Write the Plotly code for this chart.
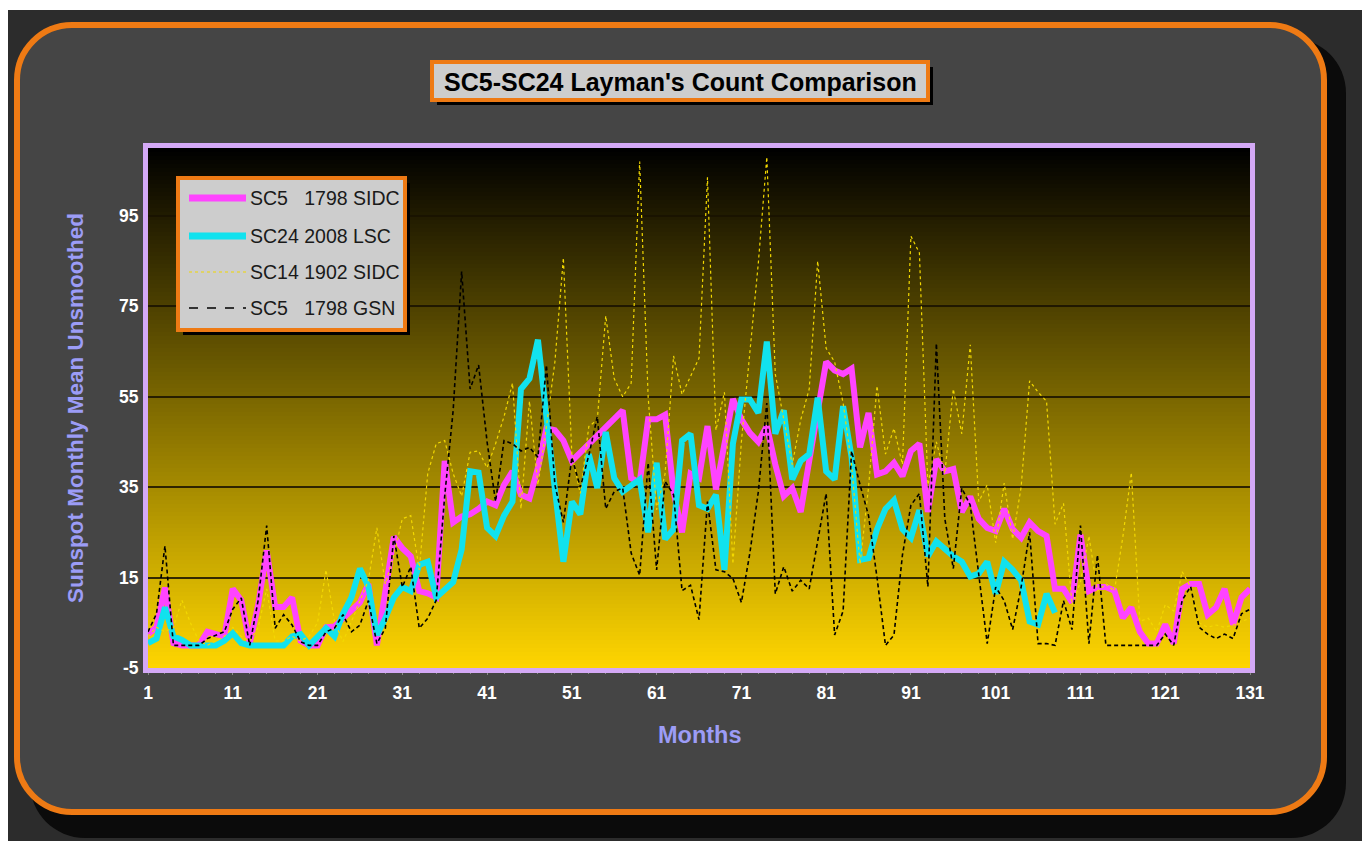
import plotly.graph_objects as go

# ---------------- data ----------------
months = list(range(1, 132))

sc5_sidc = [2.5, 4, 12.8, 0.5, 0, 0, 0, 3, 2.5, 2,
            12.5, 10, 0.5, 9, 21, 8.5, 8.5, 10.6, 1, 0,
            0, 4, 4.2, 6, 7.5, 9.5, 13.6, 0, 12, 24,
            21.5, 19.7, 12, 11.5, 10.6, 40.8, 27.2, 28.5, 29, 30.2,
            31.8, 31, 35.5, 38.5, 33.3, 32.5, 39.3, 48, 47.6, 45.3,
            40.8, 42.7, 44.6, 46.5, 48.4, 50.5, 52, 37, 36, 50,
            50, 51, 34, 25, 38, 37, 48.5, 34.5, 44, 54.5,
            50, 47, 45, 48.5, 40, 33, 34.8, 29.5, 40.8, 52,
            62.7, 60.8, 60, 61.2, 43.8, 51.4, 37.8, 38.5, 40.4, 37.4,
            43, 44.6, 29.5, 41.2, 38.5, 39, 29.5, 32.9, 28, 26,
            25.3, 30.2, 25.7, 23.8, 27.2, 25.3, 24.2, 12.5, 12.5, 9.5,
            24.5, 12, 12.9, 12.9, 12.1, 6.1, 8.4, 3, 0.4, 0.4,
            4.6, 0.4, 12.5, 13.6, 13.6, 6.8, 8.4, 12.5, 4.6, 10.6,
            12.5]

sc24_lsc = [0.5, 1.5, 8.4, 2, 1.2, 0, 0, 0, 0, 1,
            2.7, 0.5, 0, 0, 0, 0, 0, 2, 2.5, 0,
            1.9, 3.8, 2, 7, 10.6, 17, 13, 2.3, 6, 10.6,
            12.9, 12, 17.8, 18.5, 10.6, 12.5, 14, 21.2, 38.5, 38.2,
            26, 24.2, 28.7, 31.8, 56.7, 59, 67.6, 50.6, 35.5, 18.5,
            31.8, 29, 42.3, 34.8, 47.2, 37, 34, 35.5, 36.7, 25,
            40.4, 23.5, 25.7, 45.3, 46.8, 31, 30.2, 33.3, 16.7, 44.6,
            54.4, 54.4, 51.4, 67.2, 46.8, 52, 36.7, 40.8, 42.3, 54.8,
            38.5, 36.7, 52.9, 41.6, 18.9, 19.3, 25.7, 30.2, 32.1, 25.7,
            23.8, 29.9, 19.7, 23, 21.2, 19.7, 18.5, 15.2, 15.9, 18.5,
            11.4, 18.5, 16.7, 14.4, 5.3, 4.6, 11.4, 7.2,
            None, None, None, None, None, None, None, None, None, None, None, None,
            None, None, None, None, None, None, None, None, None, None, None]

sc14_sidc = [2, 4, 3, 4, 10, 5, 1, 0, 1, 2,
             4, 2, 1, 4, 12.5, 1, 1, 2, 1, 2,
             5, 16.7, 5.3, 0.8, 5.3, 10, 14.4, 26, 13.6, 20,
             28, 28.7, 16.7, 38, 44.6, 45.3, 38, 33, 42.7, 43,
             39.3, 44.6, 50.6, 58, 30.2, 54, 35.5, 48.4, 62.7, 85.7,
             42.3, 33.6, 48.4, 49.9, 72.9, 59, 55, 58, 107, 55,
             30, 38, 64, 55.5, 59.7, 63.5, 103.5, 47.6, 56, 18,
             45, 65.7, 84.6, 108, 60, 50, 40, 49.9, 56.7, 85,
             65.7, 62.7, 53.6, 40, 18, 35, 57.4, 42.3, 48, 40,
             90.5, 86.8, 35.5, 45, 38, 56.7, 46.8, 66.5, 31.8, 35.5,
             22.7, 35.9, 23.5, 35, 58.5, 56, 54, 26.8, 31.4, 9,
             14, 24.2, 12, 13.6, 12, 24, 38.2, 5.3, 6, 3,
             9, 7.6, 16.3, 12.9, 5, 4, 4.5, 4, 4.5, 5.3,
             6]

sc5_gsn = [3, 7, 22, 0, 0, 0, 0, 1.5, 2.3, 3,
           8, 10.5, 0, 10, 26.5, 3.8, 6.8, 4.5, 0.8, 0,
           0, 3, 3.8, 6.8, 3, 4.5, 9.9, 0.4, 3.8, 24.2,
           12.9, 17.4, 3.8, 6, 10, 33, 52, 82.7, 56.7, 62,
           45, 31.8, 45.3, 44.6, 43, 43.8, 41.6, 62, 35.5, 27.2,
           41.6, 35, 42, 50.6, 30.2, 34, 34.8, 20.4, 15.5, 40.4,
           16.7, 36.3, 33.3, 12.1, 13.3, 5.7, 31.8, 16.7, 16.3, 14.8,
           9.5, 20.4, 34, 53.6, 11.4, 17.4, 12, 14.4, 12.5, 23,
           33.6, 2.3, 7.6, 43, 35.5, 28.7, 15, 0, 2.3, 20,
           31, 33.6, 13, 66.8, 28, 17, 34.8, 31, 15, 0.4,
           12.9, 9.9, 3.5, 12.9, 25, 0.4, 0.4, 0, 9.9, 3.5,
           26.5, 0.4, 20, 0, 0, 0, 0, 0, 0, 0,
           2.5, 0, 10, 13, 4, 2.5, 1.5, 2.5, 1.5, 7,
           8]

series_names = ["SC5\u00a0\u00a0\u00a01798 SIDC", "SC24 2008 LSC",
                "SC14 1902 SIDC", "SC5\u00a0\u00a0\u00a01798 GSN"]
x_tick_values = [1, 11, 21, 31, 41, 51, 61, 71, 81, 91, 101, 111, 121, 131]
y_tick_values = [-5, 15, 35, 55, 75, 95]
title_text = "SC5-SC24 Layman's Count Comparison"
y_title = "Sunspot Monthly Mean Unsmoothed"
x_title = "Months"

# ---------------- geometry (page pixels) ----------------
W, H = 1362, 841
L, R, T, B = 148, 1250, 148, 668
FONT = "Liberation Sans, Arial, sans-serif"
ORANGE = "#EE7A14"
LAVENDER = "#D4A9F6"


def px(x):
    return (x - L) / (R - L)


def py(y):
    return (B - y) / (B - T)


def rrect_path(x0, y0, x1, y1, r):
    k = 0.5523 * r
    pts = [("M", [(x0 + r, y0)]), ("L", [(x1 - r, y0)]),
           ("C", [(x1 - r + k, y0), (x1, y0 + r - k), (x1, y0 + r)]),
           ("L", [(x1, y1 - r)]),
           ("C", [(x1, y1 - r + k), (x1 - r + k, y1), (x1 - r, y1)]),
           ("L", [(x0 + r, y1)]),
           ("C", [(x0 + r - k, y1), (x0, y1 - r + k), (x0, y1 - r)]),
           ("L", [(x0, y0 + r)]),
           ("C", [(x0, y0 + r - k), (x0 + r - k, y0), (x0 + r, y0)])]
    s = ""
    for cmd, pl in pts:
        s += cmd + " " + " ".join(f"{px(a):.5f},{py(b):.5f}" for a, b in pl) + " "
    return s + "Z"


def prect(x0, y0, x1, y1, **kw):
    d = dict(type="rect", xref="paper", yref="paper",
             x0=px(x0), x1=px(x1), y0=py(y1), y1=py(y0))
    d.update(kw)
    return d


shapes = []
# page background
shapes.append(prect(8, 10, W + 2, H + 2, fillcolor="#2c2c2c", line_width=0, layer="below"))
# panel shadow
shapes.append(dict(type="path", xref="paper", yref="paper", layer="below",
                   path=rrect_path(30, 38, 1346, 838, 55), fillcolor="#0b0b0b", line_width=0))
# panel
shapes.append(dict(type="path", xref="paper", yref="paper", layer="below",
                   path=rrect_path(17, 25, 1324, 812, 55), fillcolor="#454545",
                   line=dict(color=ORANGE, width=6)))
# title box
shapes.append(prect(437, 67, 933, 105, fillcolor="#000000", line_width=0, layer="below"))
shapes.append(prect(432, 62, 928, 100, fillcolor="#CDCDCD",
                    line=dict(color=ORANGE, width=4), layer="below"))

# plot gradient (black top -> gold bottom)
N = 130
for i in range(N):
    t = (i + 0.5) / N  # 0 at top
    col = f"rgb({int(255 * t)},{int(214 * t)},0)"
    shapes.append(dict(type="rect", xref="x domain", yref="y domain", layer="below",
                       x0=0, x1=1, y0=1 - (i + 1) / N - 0.001, y1=1 - i / N,
                       fillcolor=col, line_width=0))

# lavender plot frame
shapes.append(prect(145.5, 145.5, 1252.5, 670.5, line=dict(color=LAVENDER, width=5),
                    fillcolor="rgba(0,0,0,0)", layer="above"))

# legend box
shapes.append(prect(183, 183, 410, 335, fillcolor="#000000", line_width=0, layer="above"))
shapes.append(prect(178, 178, 405, 330, fillcolor="#CDCDCD",
                    line=dict(color=ORANGE, width=4), layer="above"))
legend_rows = [198, 236, 272, 308]
legend_styles = [dict(color="#FF44FF", width=7), dict(color="#11E2EE", width=7),
                 dict(color="#F2D800", width=1.2, dash="dot"),
                 dict(color="#000000", width=1.5, dash="dash")]
for yy, st in zip(legend_rows, legend_styles):
    shapes.append(dict(type="line", xref="paper", yref="paper", layer="above",
                       x0=px(189), x1=px(246), y0=py(yy), y1=py(yy), line=st))

annotations = []
annotations.append(dict(x=px(680), y=py(82), xref="paper", yref="paper",
                        text=f"<b>{title_text}</b>", showarrow=False,
                        font=dict(family=FONT, size=25, color="#000000"),
                        xanchor="center", yanchor="middle"))
for yy, name in zip(legend_rows, series_names):
    annotations.append(dict(x=px(248), y=py(yy), xref="paper", yref="paper",
                            text=name, showarrow=False,
                            font=dict(family=FONT, size=19.5, color="#1a1a1a"),
                            xanchor="left", yanchor="middle"))
annotations.append(dict(x=px(75), y=py(408), xref="paper", yref="paper",
                        text=f"<b>{y_title}</b>", showarrow=False, textangle=-90,
                        font=dict(family=FONT, size=22.5, color="#9C9CF6"),
                        xanchor="center", yanchor="middle"))
annotations.append(dict(x=px(700), y=py(735), xref="paper", yref="paper",
                        text=f"<b>{x_title}</b>", showarrow=False,
                        font=dict(family=FONT, size=23.5, color="#9C9CF6"),
                        xanchor="center", yanchor="middle"))

fig = go.Figure()
fig.add_trace(go.Scatter(x=months, y=sc5_sidc, mode="lines", name=series_names[0],
                         line=dict(color="#FF44FF", width=6), showlegend=False))
fig.add_trace(go.Scatter(x=months, y=sc24_lsc, mode="lines", name=series_names[1],
                         line=dict(color="#11E2EE", width=6), showlegend=False,
                         connectgaps=False))
fig.add_trace(go.Scatter(x=months, y=sc14_sidc, mode="lines", name=series_names[2],
                         line=dict(color="#F2D800", width=1.2, dash="dot"), showlegend=False))
fig.add_trace(go.Scatter(x=months, y=sc5_gsn, mode="lines", name=series_names[3],
                         line=dict(color="#000000", width=1.6, dash="4px,3px"), showlegend=False))

fig.update_layout(
    width=W, height=H, autosize=False,
    margin=dict(l=L, r=W - R, t=T, b=H - B, pad=0),
    paper_bgcolor="#FFFFFF", plot_bgcolor="rgba(0,0,0,0)",
    shapes=shapes, annotations=annotations, showlegend=False,
    xaxis=dict(range=[1, 131], tickmode="array", tickvals=x_tick_values,
               ticktext=[f"<b>{v}</b>" for v in x_tick_values],
               tickfont=dict(family=FONT, size=17.5, color="#FFFFFF"),
               ticks="outside", ticklen=6, tickcolor="#8a8a8a", tickwidth=1,
               ticklabelstandoff=3,
               minor=dict(tickmode="linear", tick0=1, dtick=2, ticks="outside",
                          ticklen=5, tickcolor="#8a8a8a", showgrid=False),
               showgrid=False, zeroline=False, showline=False),
    yaxis=dict(range=[-5, 110], tickmode="array", tickvals=y_tick_values,
               ticktext=[f"<b>{v}</b>" for v in y_tick_values],
               tickfont=dict(family=FONT, size=17.5, color="#FFFFFF"),
               ticks="outside", ticklen=5, tickcolor="rgba(0,0,0,0)",
               showgrid=True, gridcolor="rgba(25,18,0,0.85)", gridwidth=2,
               zeroline=False, showline=False),
)

fig.write_html("out.html", config={"displayModeBar": False},
               post_script="document.body.style.margin='0px';")
